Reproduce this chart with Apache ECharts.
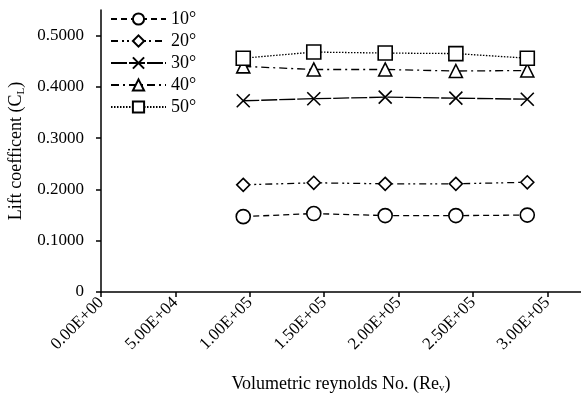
<!DOCTYPE html>
<html><head><meta charset="utf-8">
<script src="https://cdn.jsdelivr.net/npm/echarts@6/dist/echarts.min.js"></script>
<style>html,body{margin:0;padding:0;background:#fff}#c{width:581px;height:398px}</style>
</head><body><div id="c"></div>
<script>
var reynolds = [95600, 143000, 191000, 238500, 286500];
var cl10 = [0.147, 0.153, 0.149, 0.149, 0.150];
var cl20 = [0.209, 0.213, 0.211, 0.211, 0.214];
var cl30 = [0.373, 0.377, 0.380, 0.378, 0.376];
var cl40 = [0.440, 0.434, 0.434, 0.431, 0.432];
var cl50 = [0.456, 0.468, 0.466, 0.465, 0.456];
var seriesNames = ['10°', '20°', '30°', '40°', '50°'];
var xTicks = [0, 50000, 100000, 150000, 200000, 250000, 300000];
var xTickLabels = ['0.00E+00', '5.00E+04', '1.00E+05', '1.50E+05', '2.00E+05', '2.50E+05', '3.00E+05'];
var yTicks = [0, 0.1, 0.2, 0.3, 0.4, 0.5];
var yTickLabels = ['0', '0.1000', '0.2000', '0.3000', '0.4000', '0.5000'];

var font = 'Liberation Serif';
function pairs(ys){ return reynolds.map(function(x,i){ return [x, ys[i]]; }); }
var crossPath = 'path://M0,0L10,10M10,0L0,10';
var styles = [
  {data: cl10, symbol: 'circle', size: 14, type: [6,4]},
  {data: cl20, symbol: 'diamond', size: 13, type: [7,4,2,3,2,4]},
  {data: cl30, symbol: crossPath, size: 13, type: [16,2]},
  {data: cl40, symbol: 'triangle', size: 13, type: [8,4,2,4]},
  {data: cl50, symbol: 'rect', size: 14, type: [1.5,1.5]}
];
var series = styles.map(function(s, i){
  return {
    name: seriesNames[i], type: 'line', data: pairs(s.data),
    symbol: s.symbol, symbolSize: s.size, showAllSymbol: true,
    lineStyle: {color: '#000', width: 1.3, type: s.type},
    itemStyle: {color: '#fff', borderColor: '#000', borderWidth: 1.6},
    z: 2 + i, animation: false
  };
});
var chart = echarts.init(document.getElementById('c'));
chart.setOption({
  animation: false,
  textStyle: {fontFamily: font, color: '#000'},
  grid: {left: 101, right: 0, top: 10, bottom: 106, containLabel: false, outerBoundsMode: 'none'},
  legend: {
    orient: 'vertical', left: 110, top: 10, padding: 0, itemWidth: 55, itemHeight: 14, itemGap: 4,
    textStyle: {fontFamily: font, fontSize: 18, lineHeight: 16, color: '#000'},
    data: seriesNames
  },
  xAxis: {
    type: 'value', min: 0, max: 322600,
    name: 'Volumetric reynolds No. (Re{s|v})', nameLocation: 'middle', nameGap: 82,
    nameTextStyle: {fontFamily: font, fontSize: 18, color: '#000',
      rich: {s: {fontFamily: font, fontSize: 11, verticalAlign: 'bottom', padding: [9,0,0,0]}}},
    axisLine: {lineStyle: {color: '#000', width: 1.5}},
    axisTick: {show: true, length: 5, inside: false, customValues: xTicks, lineStyle: {color: '#000', width: 1.5}},
    axisLabel: {customValues: xTicks, rotate: 45, fontFamily: font, fontSize: 17, color: '#000', margin: 8,
      formatter: function(v){ var i = xTicks.indexOf(v); return i >= 0 ? xTickLabels[i] : ''; }},
    splitLine: {show: false}
  },
  yAxis: {
    type: 'value', min: 0, max: 0.55,
    name: 'Lift coefficent (C{s|L})', nameLocation: 'middle', nameGap: 73, nameRotate: 90,
    nameTextStyle: {fontFamily: font, fontSize: 18, color: '#000',
      rich: {s: {fontFamily: font, fontSize: 11, verticalAlign: 'bottom', padding: [9,0,0,0]}}},
    axisLine: {lineStyle: {color: '#000', width: 1.5}},
    axisTick: {show: true, length: 5, inside: false, customValues: yTicks, lineStyle: {color: '#000', width: 1.5}},
    axisLabel: {customValues: yTicks, fontFamily: font, fontSize: 17, color: '#000', margin: 17,
      formatter: function(v){ var i = yTicks.indexOf(v); return i >= 0 ? yTickLabels[i] : ''; }},
    splitLine: {show: false}
  },
  series: series
});
</script></body></html>
